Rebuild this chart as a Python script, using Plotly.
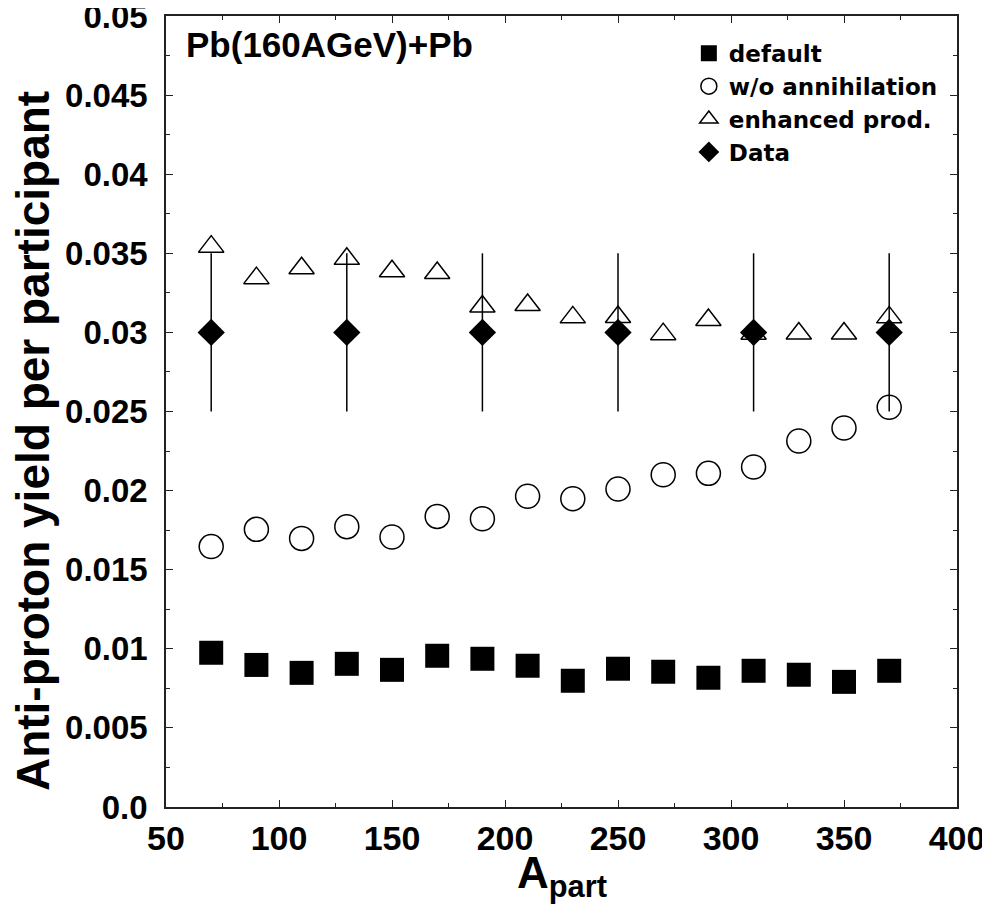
import plotly.graph_objects as go

# ---------------------------- DATA ---------------------------- #
a_part = [70, 90, 110, 130, 150, 170, 190, 210, 230, 250, 270, 290, 310, 330, 350, 370]

pbar_default = [0.00975, 0.00898, 0.00848, 0.00905, 0.00867, 0.00956, 0.00937, 0.00893,
                0.00798, 0.00874, 0.00855, 0.00817, 0.00861, 0.00836, 0.00791, 0.00861]
pbar_no_annih = [0.01646, 0.01755, 0.01698, 0.01772, 0.01707, 0.01837, 0.01822, 0.01964,
                 0.01949, 0.02010, 0.02100, 0.02109, 0.02149, 0.02314, 0.02396, 0.02527]
pbar_enhanced = [0.03542, 0.03343, 0.03405, 0.03465, 0.03386, 0.03375, 0.03164, 0.03173,
                 0.03095, 0.03097, 0.02989, 0.03078, 0.02991, 0.02993, 0.02993, 0.03095]

data_apart = [70, 130, 190, 250, 310, 370]
data_yield = [0.030, 0.030, 0.030, 0.030, 0.030, 0.030]
data_err = [0.005, 0.005, 0.005, 0.005, 0.005, 0.005]

x_tick_vals = [50, 100, 150, 200, 250, 300, 350, 400]
y_tick_vals = [0.0, 0.005, 0.01, 0.015, 0.02, 0.025, 0.03, 0.035, 0.04, 0.045, 0.05]
y_tick_text = ['0.0', '0.005', '0.01', '0.015', '0.02', '0.025', '0.03', '0.035', '0.04', '0.045', '0.05']

FONT = 'Liberation Sans'
AX_COL = '#222222'

# ---------------------------- FIGURE ---------------------------- #
fig = go.Figure()

fig.add_trace(go.Scatter(x=a_part, y=pbar_default, mode='markers', name='<b>default</b>',
                         marker=dict(symbol='square', size=24, color='black')))
fig.add_trace(go.Scatter(x=a_part, y=pbar_no_annih, mode='markers', name='<b>w/o annihilation</b>',
                         marker=dict(symbol='circle-open', size=24, color='black',
                                     line=dict(width=1.5, color='black'))))
fig.add_trace(go.Scatter(x=a_part, y=pbar_enhanced, mode='markers', name='<b>enhanced prod.</b>',
                         marker=dict(symbol='triangle-up-open', size=22, color='black',
                                     line=dict(width=1.5, color='black'))))
fig.add_trace(go.Scatter(x=data_apart, y=data_yield, mode='markers', name='<b>Data</b>',
                         marker=dict(symbol='diamond', size=21, color='black'),
                         error_y=dict(type='data', array=data_err, visible=True,
                                      width=0, thickness=1.5, color='black')))

# label in the upper left corner
fig.add_annotation(text='<b>Pb(160AGeV)+Pb</b>', xref='paper', yref='paper',
                   x=0.023, y=0.964, xanchor='left', yanchor='middle', showarrow=False,
                   font=dict(family=FONT, size=35, color='black'))

# axis titles as annotations (the y title sits a bit below the axis centre)
fig.add_annotation(text='<b>Anti-proton yield per participant</b>', xref='paper', yref='paper',
                   x=-0.169, y=0.463, xanchor='center', yanchor='middle', textangle=-90,
                   showarrow=False, font=dict(family=FONT, size=46, color='black'))
fig.add_annotation(text='<b>A<sub>part</sub></b>', xref='paper', yref='paper',
                   x=0.501, y=-0.087, xanchor='center', yanchor='middle',
                   showarrow=False, font=dict(family=FONT, size=44, color='black'))

axis_common = dict(showgrid=False, zeroline=False, showline=True, linecolor=AX_COL,
                   linewidth=1.5, mirror='allticks', ticks='inside', ticklen=7,
                   tickwidth=1.2, tickcolor=AX_COL, automargin=False,
                   ticklabeloverflow='allow')

fig.update_xaxes(range=[50, 400], tickvals=x_tick_vals,
                 ticktext=['<b>%d</b>' % v for v in x_tick_vals],
                 tickfont=dict(family=FONT, size=34, color='black'),
                 ticklabelstandoff=0,
                 minor=dict(dtick=25, tick0=50, ticks='inside', ticklen=4, tickcolor=AX_COL),
                 **axis_common)
fig.update_yaxes(range=[0, 0.05], tickvals=y_tick_vals,
                 ticktext=['<b>%s</b>' % t for t in y_tick_text],
                 tickfont=dict(family=FONT, size=33, color='black'),
                 ticklabelstandoff=10,
                 minor=dict(dtick=0.0025, tick0=0, ticks='inside', ticklen=4, tickcolor=AX_COL),
                 **axis_common)

# page body has an 8px margin, so the plot box is shifted by that amount
fig.update_layout(
    width=990, height=910,
    margin=dict(l=158, r=41, t=8, b=111),
    plot_bgcolor='white', paper_bgcolor='white',
    showlegend=True,
    legend=dict(x=0.661, y=0.980, xanchor='left', yanchor='top',
                bgcolor='rgba(0,0,0,0)', borderwidth=0, tracegroupgap=0,
                font=dict(family='DejaVu Sans', size=23, color='black')),
)

fig.write_html('out.html')
